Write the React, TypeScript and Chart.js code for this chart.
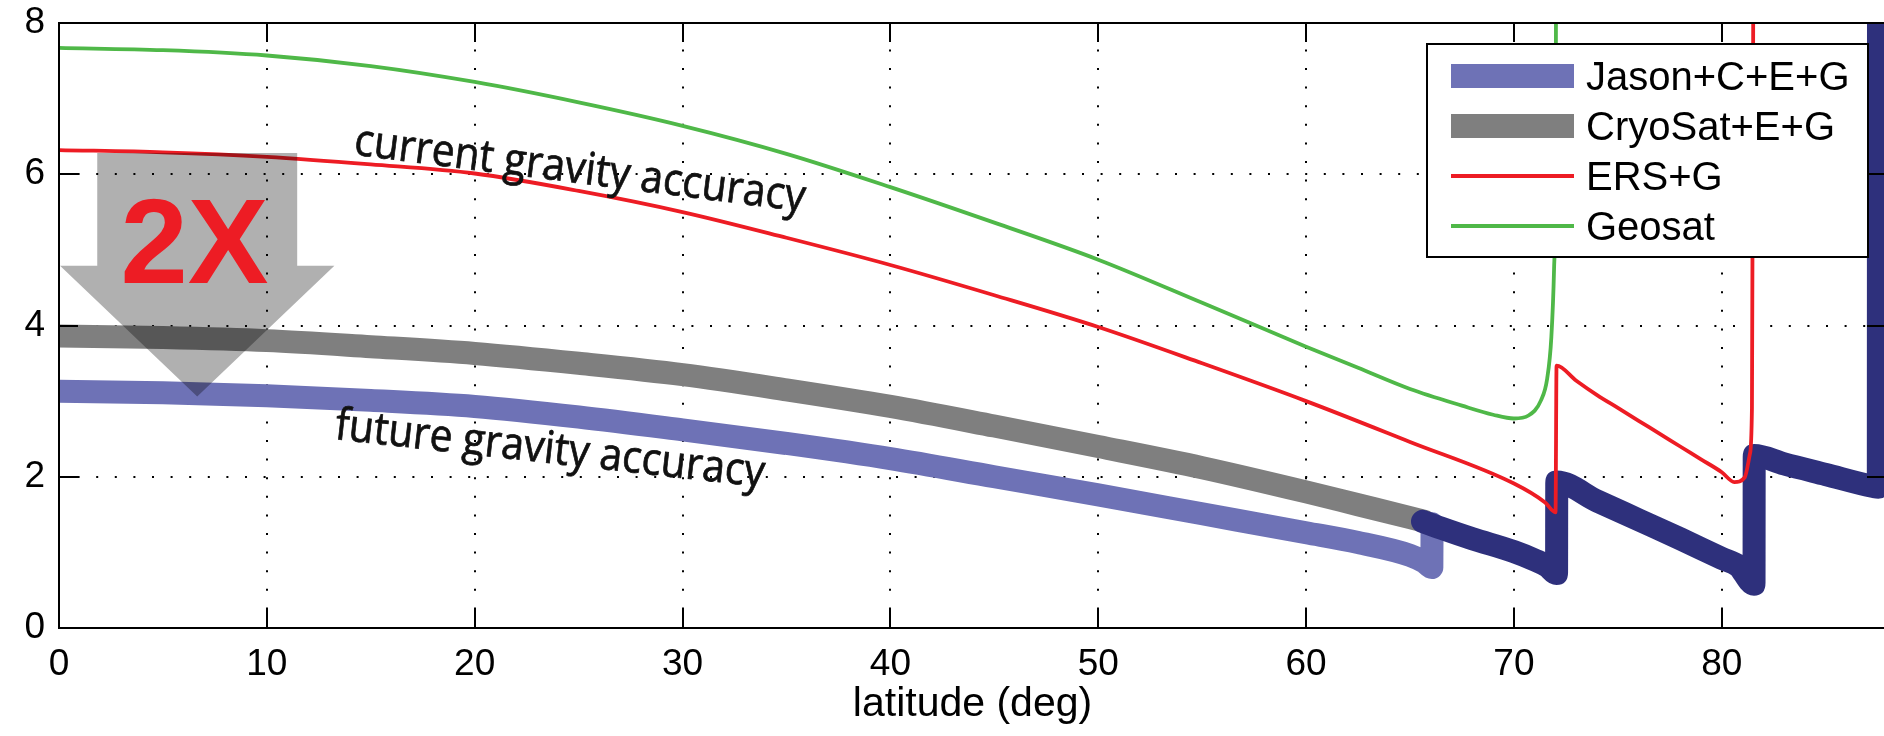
import React, { useEffect, useRef } from "react";
import { Chart, registerables } from "chart.js";

Chart.register(...registerables);

// ---------------- data ----------------
const X_TICKS = [0, 10, 20, 30, 40, 50, 60, 70, 80];
const Y_TICKS = [0, 2, 4, 6, 8];
const X_MIN = 0;
const X_MAX = 87.9;
const Y_MIN = 0;
const Y_MAX = 8;

const SERIES_NAMES = ["Jason+C+E+G", "CryoSat+E+G", "ERS+G", "Geosat"];

const jasonLat = [0, 5, 10, 15, 20, 25, 30, 35, 40, 45, 50, 55, 60, 62.5, 65, 65.7, 66.05, 66.06];
const jasonVal = [3.13, 3.11, 3.07, 3.01, 2.93, 2.79, 2.62, 2.44, 2.24, 2.0, 1.76, 1.51, 1.26, 1.13, 0.96, 0.87, 0.8, 1.38];

const cryoLat = [0, 5, 10, 15, 20, 25, 30, 35, 40, 45, 50, 55, 60, 62.5, 65, 65.7];
const cryoVal = [3.86, 3.84, 3.8, 3.72, 3.63, 3.5, 3.35, 3.15, 2.93, 2.67, 2.4, 2.12, 1.8, 1.63, 1.46, 1.41];

// segment where Jason+C+E+G and CryoSat+E+G coincide (drawn dark)
const bothLat = [65.6, 66.5, 68, 70, 71, 71.6, 72.05, 72.06, 74, 76, 78, 80, 80.8, 81.55, 81.56, 83, 85, 87.3, 87.53, 87.54];
const bothVal = [1.41, 1.32, 1.18, 1.01, 0.9, 0.82, 0.72, 1.93, 1.68, 1.43, 1.18, 0.92, 0.82, 0.58, 2.28, 2.17, 2.03, 1.87, 1.86, 9.0];

const ersLat = [0, 5, 10, 15, 20, 25, 30, 35, 40, 45, 50, 55, 60, 65, 70, 71.5, 72.0, 72.05, 73, 74, 75, 76, 77, 78, 79, 80, 80.6, 81.1, 81.35, 81.45, 81.52];
const ersVal = [6.32, 6.29, 6.23, 6.13, 6.01, 5.78, 5.5, 5.16, 4.8, 4.4, 3.98, 3.5, 3.0, 2.46, 1.91, 1.66, 1.53, 3.47, 3.27, 3.08, 2.91, 2.74, 2.57, 2.4, 2.23, 2.06, 1.93, 1.99, 2.3, 2.9, 9.0];

const geosatLat = [0, 5, 10, 15, 20, 25, 30, 35, 40, 45, 50, 55, 60, 62.5, 65, 67.5, 69, 70, 70.7, 71.3, 71.6, 71.8, 71.93, 72.0, 72.03];
const geosatVal = [7.67, 7.64, 7.57, 7.43, 7.22, 6.95, 6.64, 6.27, 5.83, 5.36, 4.87, 4.3, 3.72, 3.44, 3.16, 2.94, 2.82, 2.77, 2.81, 3.01, 3.3, 3.85, 4.75, 6.0, 9.0];

const X_TITLE = "latitude (deg)";
const NOTE_CURRENT = "current gravity accuracy";
const NOTE_FUTURE = "future gravity accuracy";
const ARROW_TEXT = "2X";

// ---------------- layout / style ----------------
const W = 1890;
const H = 736;
const PLOT_LEFT = 59;
const PLOT_TOP = 23;
const X_AXIS_H = 108;
const RIGHT_PAD = 4;
const FONT = "'Liberation Sans', Arial, Helvetica, sans-serif";
const NOTE_FONT = "'Open Sans', 'Noto Sans', sans-serif";
const COLORS = {
  jason: "#6e72b6",
  cryo: "#7f7f7f",
  ers: "#ed1c24",
  geosat: "#4fb848",
  both: "#2e307c",
};
const THICK = 23;
const THIN = 3.8;

// annotation placement (data units) and style
const ARROW = { lat: 6.65, shaftHalf: 4.81, headHalf: 6.6, top: 6.28, headBase: 4.79, tip: 3.06 };
const ARROW_LABEL = { lat: 6.52, val: 4.56, size: 121 };
const NOTES = [
  { text: NOTE_CURRENT, lat: 14.15, val: 6.26, angle: 7.2, span: 454 },
  { text: NOTE_FUTURE, lat: 13.23, val: 2.5, angle: 6.4, span: 432 },
];
const LEGEND = { right: 18, top: 21, width: 441, height: 213, sampleX: 24, sampleLen: 123, textX: 159, row0: 32, rowGap: 50, size: 40 };

const toPts = (xs: number[], ys: number[]) => xs.map((x, i) => ({ x, y: ys[i] }));

const lineDefaults = {
  pointRadius: 0,
  pointHoverRadius: 0,
  borderCapStyle: "round",
  borderJoinStyle: "round",
  fill: false,
  cubicInterpolationMode: "monotone",
  clip: 0,
};

const overlayPlugin = {
  id: "overlay",
  beforeDatasetsDraw(chart: any) {
    const { ctx, chartArea: a, scales } = chart;
    const xs = scales.x;
    const ys = scales.y;
    ctx.save();
    ctx.strokeStyle = "#000";
    ctx.lineWidth = 2;
    ctx.setLineDash([2, 16.6]);
    X_TICKS.forEach((v) => {
      if (v === X_MIN) return;
      const px = Math.round(xs.getPixelForValue(v));
      ctx.beginPath();
      ctx.moveTo(px, a.bottom);
      ctx.lineTo(px, a.top);
      ctx.stroke();
    });
    Y_TICKS.forEach((v) => {
      if (v === Y_MIN || v === Y_MAX) return;
      const py = Math.round(ys.getPixelForValue(v));
      ctx.beginPath();
      ctx.moveTo(a.left, py);
      ctx.lineTo(a.right, py);
      ctx.stroke();
    });
    ctx.restore();
  },
  afterDatasetsDraw(chart: any) {
    const { ctx, chartArea: a, scales } = chart;
    const xs = scales.x;
    const ys = scales.y;

    // axes box and inward ticks
    ctx.save();
    ctx.strokeStyle = "#000";
    ctx.lineWidth = 2;
    ctx.setLineDash([]);
    ctx.strokeRect(a.left, a.top, a.right - a.left, a.bottom - a.top);
    const TL = 19;
    ctx.beginPath();
    X_TICKS.forEach((v) => {
      const px = Math.round(xs.getPixelForValue(v));
      ctx.moveTo(px, a.bottom);
      ctx.lineTo(px, a.bottom - TL);
      ctx.moveTo(px, a.top);
      ctx.lineTo(px, a.top + TL);
    });
    Y_TICKS.forEach((v) => {
      const py = Math.round(ys.getPixelForValue(v));
      ctx.moveTo(a.left, py);
      ctx.lineTo(a.left + TL, py);
      ctx.moveTo(a.right, py);
      ctx.lineTo(a.right - TL, py);
    });
    ctx.stroke();
    ctx.restore();

    // big translucent arrow
    const cx = xs.getPixelForValue(ARROW.lat);
    const sL = xs.getPixelForValue(ARROW.lat - ARROW.shaftHalf);
    const sR = xs.getPixelForValue(ARROW.lat + ARROW.shaftHalf);
    const hL = xs.getPixelForValue(ARROW.lat - ARROW.headHalf);
    const hR = xs.getPixelForValue(ARROW.lat + ARROW.headHalf);
    const top = ys.getPixelForValue(ARROW.top);
    const base = ys.getPixelForValue(ARROW.headBase);
    const tip = ys.getPixelForValue(ARROW.tip);
    ctx.save();
    ctx.fillStyle = "rgba(0,0,0,0.31)";
    ctx.beginPath();
    ctx.moveTo(sL, top);
    ctx.lineTo(sR, top);
    ctx.lineTo(sR, base);
    ctx.lineTo(hR, base);
    ctx.lineTo(cx, tip);
    ctx.lineTo(hL, base);
    ctx.lineTo(sL, base);
    ctx.closePath();
    ctx.fill();

    ctx.fillStyle = COLORS.ers;
    ctx.font = `bold ${ARROW_LABEL.size}px ${FONT}`;
    ctx.textAlign = "center";
    ctx.textBaseline = "alphabetic";
    ctx.fillText(ARROW_TEXT, xs.getPixelForValue(ARROW_LABEL.lat), ys.getPixelForValue(ARROW_LABEL.val));
    ctx.restore();

    // rotated notes
    NOTES.forEach((n) => {
      ctx.save();
      ctx.font = `500 40px ${NOTE_FONT}`;
      const w = ctx.measureText(n.text).width;
      const size = (40 * n.span) / w;
      ctx.font = `500 ${size}px ${NOTE_FONT}`;
      ctx.translate(xs.getPixelForValue(n.lat), ys.getPixelForValue(n.val));
      ctx.rotate((n.angle * Math.PI) / 180);
      ctx.scale(1, 1.1);
      ctx.fillStyle = "#111";
      ctx.strokeStyle = "#111";
      ctx.lineWidth = 0.7;
      ctx.textAlign = "left";
      ctx.textBaseline = "alphabetic";
      ctx.fillText(n.text, 0, 0);
      ctx.strokeText(n.text, 0, 0);
      ctx.restore();
    });

    // legend
    const lx = a.right - LEGEND.right - LEGEND.width;
    const ly = a.top + LEGEND.top;
    ctx.save();
    ctx.fillStyle = "#fff";
    ctx.fillRect(lx, ly, LEGEND.width, LEGEND.height);
    ctx.strokeStyle = "#000";
    ctx.lineWidth = 2;
    ctx.strokeRect(lx, ly, LEGEND.width, LEGEND.height);
    ctx.font = `${LEGEND.size}px ${FONT}`;
    ctx.textAlign = "left";
    ctx.textBaseline = "alphabetic";
    SERIES_NAMES.forEach((name, i) => {
      const ds = chart.data.datasets.find((d: any) => d.label === name);
      const cy = ly + LEGEND.row0 + i * LEGEND.rowGap;
      ctx.strokeStyle = ds.borderColor;
      ctx.lineWidth = ds.borderWidth > 10 ? 24 : 4;
      ctx.lineCap = "butt";
      ctx.beginPath();
      ctx.moveTo(lx + LEGEND.sampleX, cy);
      ctx.lineTo(lx + LEGEND.sampleX + LEGEND.sampleLen, cy);
      ctx.stroke();
      ctx.fillStyle = "#000";
      ctx.fillText(name, lx + LEGEND.textX, cy + 14);
    });
    ctx.restore();
  },
};

export default function App() {
  const ref = useRef<HTMLCanvasElement | null>(null);

  useEffect(() => {
    document.body.style.margin = "0";
    const canvas = ref.current;
    if (!canvas) return;
    const chart = new Chart(canvas, {
      type: "line",
      data: {
        datasets: [
          { ...lineDefaults, label: SERIES_NAMES[2], data: toPts(ersLat, ersVal), borderColor: COLORS.ers, borderWidth: THIN, order: 0 },
          { ...lineDefaults, label: "overlap", data: toPts(bothLat, bothVal), borderColor: COLORS.both, borderWidth: THICK, order: 1 },
          { ...lineDefaults, label: SERIES_NAMES[0], data: toPts(jasonLat, jasonVal), borderColor: COLORS.jason, borderWidth: THICK, order: 2 },
          { ...lineDefaults, label: SERIES_NAMES[1], data: toPts(cryoLat, cryoVal), borderColor: COLORS.cryo, borderWidth: THICK, order: 3 },
          { ...lineDefaults, label: SERIES_NAMES[3], data: toPts(geosatLat, geosatVal), borderColor: COLORS.geosat, borderWidth: THIN, order: 4 },
        ] as any,
      },
      options: {
        animation: false,
        responsive: false,
        devicePixelRatio: 1,
        events: [],
        layout: { padding: { top: PLOT_TOP, right: RIGHT_PAD, left: 0, bottom: 0 } },
        plugins: { legend: { display: false }, tooltip: { enabled: false } },
        scales: {
          x: {
            type: "linear",
            min: X_MIN,
            max: X_MAX,
            afterBuildTicks: (s: any) => {
              s.ticks = X_TICKS.map((value) => ({ value }));
            },
            afterFit: (s: any) => {
              s.height = X_AXIS_H;
              s.paddingLeft = 0;
              s.paddingRight = 0;
            },
            ticks: { font: { family: FONT, size: 37 }, color: "#000", padding: 15, maxRotation: 0, autoSkip: false },
            grid: { display: false, drawTicks: false },
            border: { display: false },
            title: {
              display: true,
              text: X_TITLE,
              color: "#000",
              font: { family: FONT, size: 41 },
              padding: { top: 0, bottom: 6.6 },
            },
          },
          y: {
            type: "linear",
            min: Y_MIN,
            max: Y_MAX,
            afterBuildTicks: (s: any) => {
              s.ticks = Y_TICKS.map((value) => ({ value }));
            },
            afterFit: (s: any) => {
              s.width = PLOT_LEFT;
              s.paddingTop = 0;
              s.paddingBottom = 0;
            },
            ticks: { font: { family: FONT, size: 37 }, color: "#000", padding: 14, autoSkip: false },
            grid: { display: false, drawTicks: false },
            border: { display: false },
          },
        },
      } as any,
      plugins: [overlayPlugin],
    });
    return () => chart.destroy();
  }, []);

  return (
    <div style={{ position: "relative", width: 1884, height: 736, overflow: "hidden", background: "#fff" }}>
      <canvas ref={ref} width={W} height={H} style={{ position: "absolute", left: 0, top: 0, width: W, height: H }} />
    </div>
  );
}
